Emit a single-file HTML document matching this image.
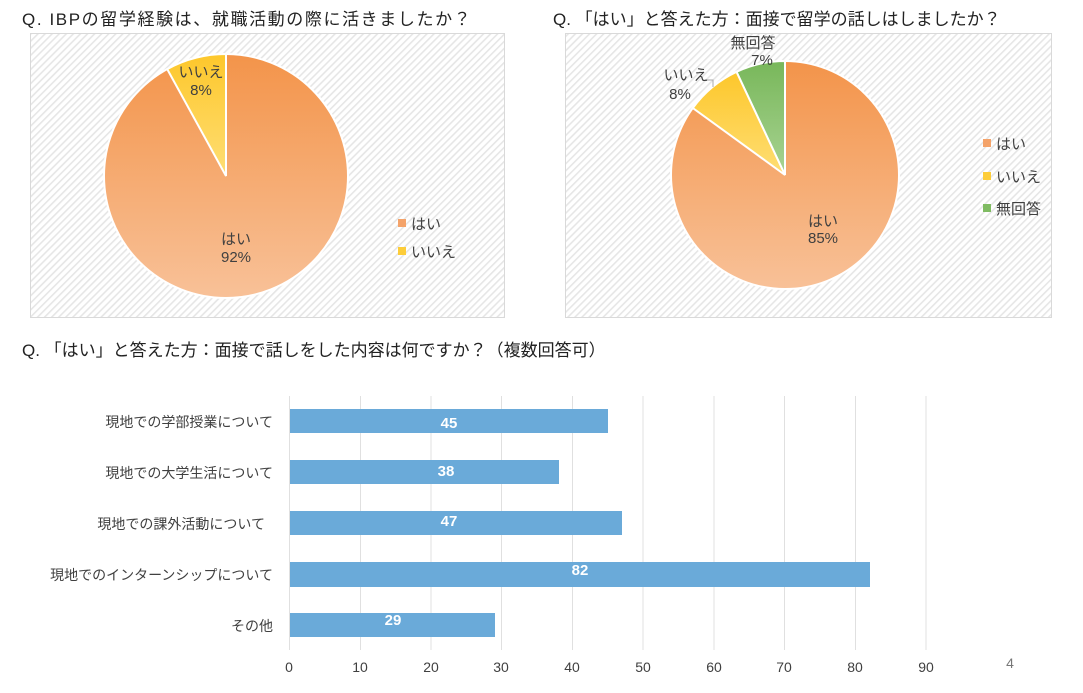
<!DOCTYPE html>
<html><head><meta charset="utf-8"><style>
body{margin:0;background:#fff;}
svg{display:block;font-family:"Liberation Sans","Noto Sans CJK JP",sans-serif;}
</style></head><body>
<svg width="1083" height="693" viewBox="0 0 1083 693" xmlns="http://www.w3.org/2000/svg">
<defs>
<pattern id="hat" width="5" height="5" patternUnits="userSpaceOnUse" patternTransform="rotate(45)">
<rect width="5" height="5" fill="#fff"/><rect width="1.6" height="5" fill="#e6e6e6"/>
</pattern>
<linearGradient id="go1" x1="0" y1="0" x2="0" y2="1"><stop offset="0" stop-color="#f3944a"/><stop offset="1" stop-color="#f8c198"/></linearGradient>
<linearGradient id="gy1" x1="0" y1="0" x2="0" y2="1"><stop offset="0" stop-color="#fdc72b"/><stop offset="1" stop-color="#fede74"/></linearGradient>
<linearGradient id="gg1" x1="0" y1="0" x2="0" y2="1"><stop offset="0" stop-color="#78b75a"/><stop offset="1" stop-color="#a8d392"/></linearGradient>
</defs>
<g fill="#222" font-size="17">
<text x="22" y="25" letter-spacing="1.6">Q. IBPの留学経験は、就職活動の際に活きましたか？</text>
<text x="553" y="25">Q. 「はい」と答えた方：面接で留学の話しはしましたか？</text>
<text x="22" y="356">Q. 「はい」と答えた方：面接で話しをした内容は何ですか？（複数回答可）</text>
</g>
<rect x="30.5" y="33.5" width="474" height="284" fill="url(#hat)" stroke="#d9d9d9"/>
<rect x="565.5" y="33.5" width="486" height="284" fill="url(#hat)" stroke="#d9d9d9"/>
<circle cx="226" cy="176" r="122" fill="url(#go1)" stroke="#fff" stroke-width="2"/>
<path d="M226,176 L226,54 A122,122 0 0,0 167.2,69.1 Z" fill="url(#gy1)" stroke="#fff" stroke-width="2"/>
<g fill="#404040" font-size="15" text-anchor="middle">
<text x="201" y="77">いいえ</text><text x="201" y="95">8%</text>
<text x="236" y="244">はい</text><text x="236" y="262">92%</text>
</g>
<rect x="398" y="219" width="8" height="8" fill="#f4a36a"/><text x="411" y="229" font-size="15" fill="#404040">はい</text>
<rect x="398" y="247" width="8" height="8" fill="#fdcd3a"/><text x="411" y="257" font-size="15" fill="#404040">いいえ</text>
<circle cx="785" cy="175" r="114" fill="url(#go1)" stroke="#fff" stroke-width="2"/>
<path d="M785,175 L785,61 A114,114 0 0,0 736.5,71.8 Z" fill="url(#gg1)" stroke="#fff" stroke-width="2"/>
<path d="M785,175 L736.5,71.8 A114,114 0 0,0 692.8,108 Z" fill="url(#gy1)" stroke="#fff" stroke-width="2"/>
<polyline points="705,80 713,80 713,87" fill="none" stroke="#aaa"/>
<g fill="#404040" font-size="15" text-anchor="middle">
<text x="753" y="48">無回答</text><text x="762" y="65">7%</text>
<text x="686" y="80">いいえ</text><text x="680" y="99">8%</text>
<text x="823" y="226">はい</text><text x="823" y="243">85%</text>
</g>
<rect x="983" y="139" width="8" height="8" fill="#f4a36a"/><text x="996" y="149" font-size="15" fill="#404040">はい</text>
<rect x="983" y="172" width="8" height="8" fill="#fdcd3a"/><text x="996" y="182" font-size="15" fill="#404040">いいえ</text>
<rect x="983" y="204" width="8" height="8" fill="#7fbb62"/><text x="996" y="214" font-size="15" fill="#404040">無回答</text>
<g stroke="#e0e0e0" stroke-width="1">
<line x1="289.5" y1="396" x2="289.5" y2="650"/><line x1="360.5" y1="396" x2="360.5" y2="650"/>
<line x1="431" y1="396" x2="431" y2="650"/><line x1="501.5" y1="396" x2="501.5" y2="650"/>
<line x1="572.5" y1="396" x2="572.5" y2="650"/><line x1="643" y1="396" x2="643" y2="650"/>
<line x1="714" y1="396" x2="714" y2="650"/><line x1="784.5" y1="396" x2="784.5" y2="650"/>
<line x1="855.5" y1="396" x2="855.5" y2="650"/><line x1="926" y1="396" x2="926" y2="650"/>
</g>
<g fill="#6aaad9">
<rect x="290" y="409" width="318" height="24"/>
<rect x="290" y="460" width="269" height="24"/>
<rect x="290" y="511" width="332" height="24"/>
<rect x="290" y="562" width="580" height="25"/>
<rect x="290" y="613" width="205" height="24"/>
</g>
<g fill="#fff" font-size="15" font-weight="bold" text-anchor="middle">
<text x="449" y="428">45</text><text x="446" y="476">38</text><text x="449" y="526">47</text>
<text x="580" y="575">82</text><text x="393" y="625">29</text>
</g>
<g fill="#404040" font-size="14" text-anchor="end">
<text x="273" y="427">現地での学部授業について</text>
<text x="273" y="478">現地での大学生活について</text>
<text x="265" y="529">現地での課外活動について</text>
<text x="273" y="580">現地でのインターンシップについて</text>
<text x="273" y="631">その他</text>
</g>
<g fill="#404040" font-size="14" text-anchor="middle">
<text x="289" y="672">0</text><text x="360" y="672">10</text><text x="431" y="672">20</text><text x="501" y="672">30</text><text x="572" y="672">40</text><text x="643" y="672">50</text><text x="714" y="672">60</text><text x="784" y="672">70</text><text x="855" y="672">80</text><text x="926" y="672">90</text>
<text x="1010" y="668" fill="#777">4</text>
</g>
</svg>
</body></html>
